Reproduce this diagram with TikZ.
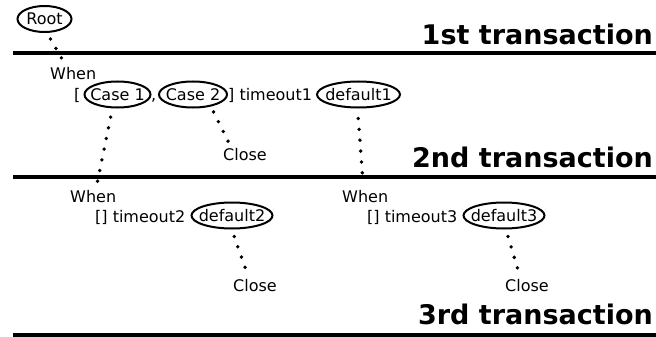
\documentclass[tikz,border=0pt]{standalone}
\usepackage{fontspec}
\setmainfont{DejaVu Sans}
\usetikzlibrary{shapes,positioning}
\tikzstyle{oval} = [ellipse, draw, line width=2pt, inner xsep=-5pt, inner ysep=0pt, minimum height=26pt, font=\fontsize{16}{19}\selectfont]
\tikzstyle{txt} = [inner sep=0pt, anchor=base west, font=\fontsize{16}{19}\selectfont]
\tikzstyle{ttl} = [inner sep=0pt, anchor=base east, font=\bfseries\fontsize{27}{30}\selectfont]
\tikzstyle{sepline} = [draw, line width=3.2pt]
\tikzstyle{dotline} = [draw, line width=3.8pt, line cap=round, dash pattern=on 0pt off 10.9pt]

\begin{document}
\begin{tikzpicture}[x=1pt, y=-1pt]
		\useasboundingbox (0,0) rectangle (656,337);
		% Transactions
		\path [sepline] (13,53) -- (656,53);
		\path [sepline] (13,177) -- (656,177);
		\path [sepline] (13,335) -- (656,335);
		\node[ttl] (First) at (653,45) {1st transaction};
		\node[ttl] (Second) at (653,167) {2nd transaction};
		\node[ttl] (Third) at (653,324) {3rd transaction};
		
		% Row 1
		\node[oval, minimum width=54pt] (Root) at (44.5,19) {Root};
		\node[txt] (When1) at (50,79) {When};
		\node[txt] (Open1) at (74,100) {[};
		\node[oval, minimum width=66pt] (Case1) at (117.5,94.5) {Case 1};
		\node[txt] (Comma) at (151,100) {,};
		\node[oval, minimum width=68pt] (Case2) at (193,94.5) {Case 2};
		\node[txt] (Timeout1) at (228,100) {] timeout1};
		\node[oval, minimum width=83pt] (Default1) at (358.5,94.5) {default1};
		\node[txt] (Close1) at (223,160) {Close};
		
		% Row 2
		\node[txt] (When2) at (70,202) {When};
		\node[txt] (Timeout2) at (95,222) {[] timeout2};
		\node[oval, minimum width=81pt] (Default2) at (232,215.5) {default2};
		\node[txt] (Close2) at (233,291) {Close};
		\node[txt] (When3) at (342,202) {When};
		\node[txt] (Timeout3) at (367,222) {[] timeout3};
		\node[oval, minimum width=81pt] (Default3) at (504,215.5) {default3};
		\node[txt] (Close3) at (505,291) {Close};
		
		% Paths
		\path [dotline, shorten <=7pt, shorten >=10pt] (Root.-80) -- (When1.136);
		\path [dotline, shorten <=9pt, shorten >=7pt] (Case1.-110) -- (When2.67);
		\path [dotline, shorten <=6pt, shorten >=5pt] (Case2.-34) -- (Close1.155);
		\path [dotline, shorten <=10pt, shorten >=6.5pt] (Default1.-94) -- (When3.104);
		\path [dotline, shorten <=7.4pt, shorten >=10.5pt] (Default2.-91) -- (Close2.133);
		\path [dotline, shorten <=7.3pt, shorten >=10.5pt] (Default3.-82) -- (Close3.135);
		
	\end{tikzpicture}
\end{document}
